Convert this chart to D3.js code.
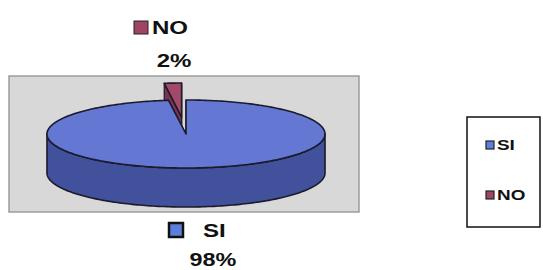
<!DOCTYPE html>
<html>
<head>
<meta charset="utf-8">
<script src="https://cdn.jsdelivr.net/npm/d3@7"></script>
<style>
  body { margin: 0; background: #fff; }
  text { font-family: "Liberation Sans", Arial, sans-serif; font-weight: bold; fill: #111; }
</style>
</head>
<body>
<svg id="chart" width="543" height="270"></svg>
<script>
// data
var categories = ['NO', 'SI'];
var values = [2, 98];
var labels = ['2%', '98%'];
var legendOrder = ['SI', 'NO'];

var topColors = { SI: '#6477d2', NO: '#a24868' };
var sideColors = { SI: '#42519c', NO: '#7a3350' };
var keyColors = { SI: '#5c7fdc', NO: '#a04466' };

var svg = d3.select('#chart');

// plot area
svg.append('rect')
    .attr('x', 9).attr('y', 76)
    .attr('width', 350).attr('height', 136)
    .attr('fill', '#d8d8d8')
    .attr('stroke', '#9c9c9c')
    .attr('stroke-width', 1.5);

var cx = 186, cy = 134, rx = 139, ry = 34, depth = 39;
var total = d3.sum(values);

var pie = d3.pie()
    .sort(null)
    .startAngle(-2 * Math.PI * values[0] / total)
    .endAngle(2 * Math.PI - 2 * Math.PI * values[0] / total);
var arcs = pie(values);

var line = d3.line();

function pt(a, ox, oy, dy) {
    return [ox + rx * Math.sin(a), oy - ry * Math.cos(a) + (dy || 0)];
}

function rim(a0, a1, ox, oy, dy) {
    var n = Math.max(2, Math.ceil(Math.abs(a1 - a0) / 0.02));
    return d3.range(n + 1).map(function(i) {
        return pt(a0 + (a1 - a0) * i / n, ox, oy, dy);
    });
}

function drawSlice(d, i) {
    var name = categories[i];
    var k = name == 'NO' ? 0.5 : 0; // exploded slice
    var mid = (d.startAngle + d.endAngle) / 2;
    var ox = cx + k * rx * Math.sin(mid),
        oy = cy - k * ry * Math.cos(mid);
    var g = svg.append('g');

    // radial walls
    [d.startAngle, d.endAngle].forEach(function(a) {
        var p = pt(a, ox, oy);
        g.append('path')
            .attr('d', line([[ox, oy], p, [p[0], p[1] + depth], [ox, oy + depth]]) + 'Z')
            .attr('fill', sideColors[name])
            .attr('stroke', '#1b1b2b')
            .attr('stroke-width', 1.2)
            .attr('stroke-linejoin', 'round');
    });

    // outer wall, front half only
    var s = Math.max(d.startAngle, Math.PI / 2),
        e = Math.min(d.endAngle, 3 * Math.PI / 2);
    if (e > s) {
        var up = rim(s, e, ox, oy, 0),
            down = rim(e, s, ox, oy, depth);
        g.append('path')
            .attr('d', line(up.concat(down)) + 'Z')
            .attr('fill', sideColors[name])
            .attr('stroke', '#1b1b2b')
            .attr('stroke-width', 1.6)
            .attr('stroke-linejoin', 'round');
    }

    // top face
    g.append('path')
        .attr('d', line([[ox, oy]].concat(rim(d.startAngle, d.endAngle, ox, oy, 0))) + 'Z')
        .attr('fill', topColors[name])
        .attr('stroke', '#1b1b2b')
        .attr('stroke-width', 1.6)
        .attr('stroke-linejoin', 'round');
}

// back slice first
arcs.forEach(drawSlice);

// stretched bold text
function label(x, y, txt, size, anchor, sx) {
    return svg.append('text')
        .attr('transform', 'translate(' + x + ',' + y + ') scale(' + (sx || 1.3) + ',1)')
        .attr('font-size', size)
        .attr('text-anchor', anchor || 'start')
        .text(txt);
}

// data labels
svg.append('rect')
    .attr('x', 134).attr('y', 21).attr('width', 14).attr('height', 13)
    .attr('fill', keyColors.NO).attr('stroke', '#222').attr('stroke-width', 1);
label(152, 34, categories[0], 18.5);
label(174, 67, labels[0], 18.5, 'middle');

svg.append('rect')
    .attr('x', 169).attr('y', 223).attr('width', 14).attr('height', 14)
    .attr('fill', keyColors.SI).attr('stroke', '#111').attr('stroke-width', 2.5);
label(203, 237, categories[1], 18.5);
label(213, 266, labels[1], 18, 'middle');

// legend
svg.append('rect')
    .attr('x', 467).attr('y', 117).attr('width', 73).attr('height', 110)
    .attr('fill', '#fff').attr('stroke', '#111').attr('stroke-width', 1.5);

var ly = d3.scalePoint().domain(legendOrder).range([145, 195]);
legendOrder.forEach(function(c) {
    svg.append('rect')
        .attr('x', 486).attr('y', ly(c) - 4).attr('width', 8).attr('height', 8)
        .attr('fill', keyColors[c]).attr('stroke', '#222').attr('stroke-width', 1.2);
    label(497, ly(c) + 5, c, 14, 'start', 1.35);
});
</script>
</body>
</html>
